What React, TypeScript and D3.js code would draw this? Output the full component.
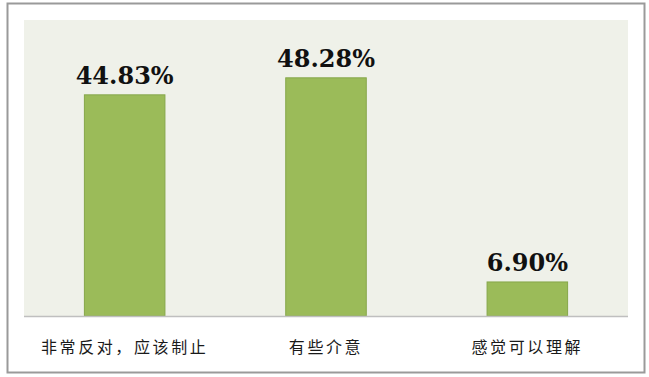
import React from "react";
import * as d3 from "d3";

const categories: string[] = ["非常反对，应该制止", "有些介意", "感觉可以理解"];
const values: number[] = [44.83, 48.28, 6.9];
const valueLabels: string[] = ["44.83%", "48.28%", "6.90%"];
const yDomain: [number, number] = [0, 60];

const W = 649;
const H = 377;
const plot = { left: 24, right: 628, top: 20, bottom: 316 };

export default function App() {
  const x = d3
    .scaleBand<string>()
    .domain(categories)
    .range([plot.left, plot.right])
    .padding(0);
  const y = d3.scaleLinear().domain(yDomain).range([plot.bottom, plot.top]);
  const barW = x.bandwidth() * 0.4;

  return (
    <svg
      width={W}
      height={H}
      style={{ position: "absolute", left: 0, top: 0 }}
    >
      <rect x={0} y={0} width={W} height={H} fill="#ffffff" />
      {/* outer frame */}
      <rect
        x={7.5}
        y={3.5}
        width={637}
        height={369}
        fill="#ffffff"
        stroke="#9a9a9a"
        strokeWidth={2}
      />
      {/* plot background */}
      <rect
        x={plot.left}
        y={plot.top}
        width={plot.right - plot.left}
        height={plot.bottom - plot.top}
        fill="#eff1e9"
      />
      {categories.map((c, i) => {
        const cx = (x(c) ?? 0) + x.bandwidth() / 2;
        const top = y(values[i]);
        return (
          <g key={c}>
            <rect
              x={cx - barW / 2}
              y={top}
              width={barW}
              height={plot.bottom - top}
              fill="#9bbb59"
              stroke="#86a74a"
              strokeWidth={1}
            />
            <text
              x={cx}
              y={top - 11}
              textAnchor="middle"
              fontFamily="'DejaVu Serif', serif"
              fontWeight="bold"
              fontSize={24}
              fill="#111111"
            >
              {valueLabels[i]}
            </text>
            <text
              x={cx}
              y={353}
              textAnchor="middle"
              fontFamily="'Noto Sans CJK SC', sans-serif"
              fontSize={16}
              letterSpacing={2.6}
              fill="#1a1a1a"
            >
              {c}
            </text>
          </g>
        );
      })}
      {/* category axis line */}
      <line
        x1={plot.left}
        x2={plot.right}
        y1={plot.bottom + 0.5}
        y2={plot.bottom + 0.5}
        stroke="#bfbfbf"
        strokeWidth={1.5}
      />
    </svg>
  );
}
